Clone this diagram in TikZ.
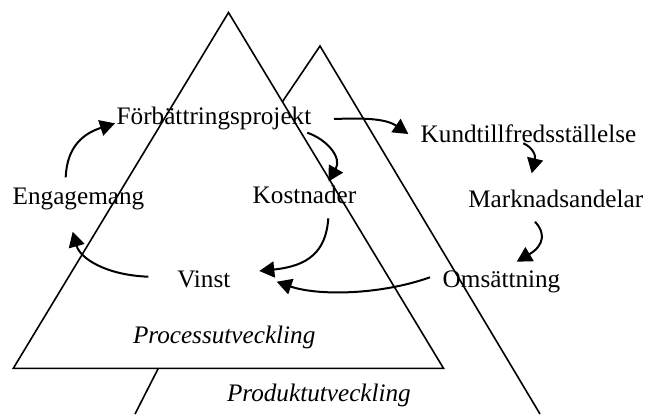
\documentclass[tikz,border=0pt]{standalone}
\usepackage{fontspec}
\setmainfont{Liberation Serif}
\usetikzlibrary{arrows.meta,calc}
\begin{document}
\begin{tikzpicture}[x=0.5pt,y=-0.5pt,
  lbl/.style={anchor=base west,inner sep=0pt,outer sep=0pt,font=\fontsize{12.6}{15}\selectfont},
  ital/.style={lbl,font=\fontsize{12.6}{15}\selectfont\itshape},
  edge/.style={line width=0.8pt,line join=miter},
  flow/.style={line width=1pt,-{Triangle[length=7.5pt,width=8pt]}}]
\useasboundingbox (0,0) rectangle (646,414);
% rear triangle (product development), partly hidden by the front one
\draw[edge] (282.4,101.7) -- (320,46) -- (540,414);
\draw[edge] (158.3,368.3) -- (135,414);
% front triangle (process development)
\draw[edge,fill=white] (228.5,12.5) -- (443.5,368.3) -- (13.3,368.3) -- cycle;

% labels
\node[lbl] (forb)  at (116.7,124)   {Förbättringsprojekt};
\node[lbl] (eng)   at (12.7,204)    {Engagemang};
\node[lbl] (kost)  at (252.7,203.3) {Kostnader};
\node[lbl] (vinst) at (177.3,287.3) {Vinst};
\node[lbl] (kund)  at (420.7,142.7) {Kundtillfredsställelse};
\node[lbl] (mark)  at (468.3,207.3) {Marknadsandelar};
\node[lbl] (oms)   at (442.7,287.3) {Omsättning};
\node[ital] (proc) at (133,343)     {Processutveckling};
\node[ital] (prod) at (227,401.7)   {Produktutveckling};

% cause-effect arrows
\draw[flow] ($(eng.base west)+(53,-26.7)$) .. controls +(1.3,-32.3) and +(-30,9.7) .. ($(forb.base west)+(-1.7,-0.7)$);
\draw[flow] ($(forb.base west)+(217.3,-5)$) .. controls +(26,-1) and +(-23.3,-16) .. ($(kund.base west)+(-12.4,-8.7)$);
\draw[flow] ($(forb.base west)+(190.6,8.7)$) .. controls +(20.7,7.3) and +(13.5,-23.5) .. ($(kost.base west)+(75.8,-21.8)$);
\draw[flow] ($(kost.base west)+(75.6,15)$) .. controls +(-2.3,33.7) and +(48.7,-5) .. ($(vinst.base west)+(82,-16.3)$);
\draw[flow] ($(oms.base west)+(-12.7,-10)$) .. controls +(-50,17.7) and +(41.3,14.3) .. ($(vinst.base west)+(99.4,-5.6)$);
\draw[flow] ($(vinst.base west)+(-29,-10.6)$) .. controls +(-43.3,-1.7) and +(7.3,26.3) .. ($(eng.base west)+(60,27.7)$);
\draw[flow] ($(kund.base west)+(102.6,0.6)$) .. controls +(8.7,3.7) and +(4.3,-18.3) .. ($(mark.base west)+(63.4,-34)$);
\draw[flow] ($(mark.base west)+(66.7,14.4)$) .. controls +(10,10.3) and +(28.3,-16.7) .. ($(oms.base west)+(74,-25.6)$);
\end{tikzpicture}
\end{document}
